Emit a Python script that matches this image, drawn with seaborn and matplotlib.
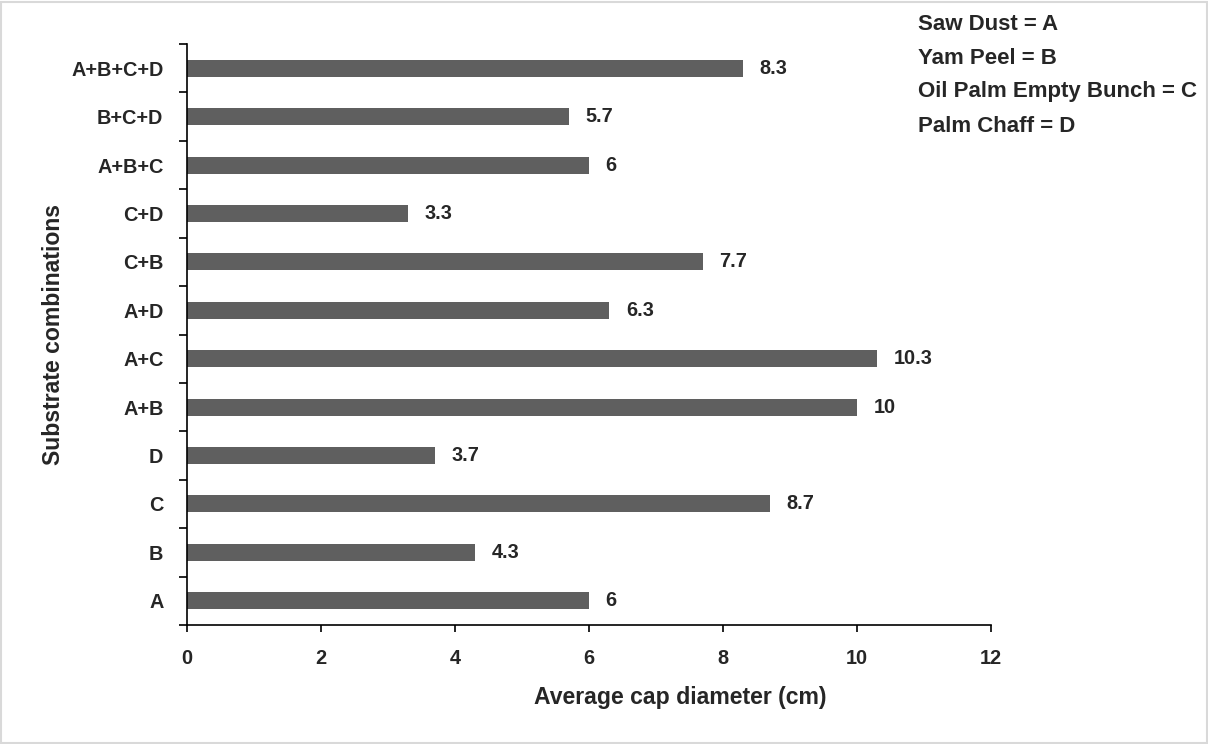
import matplotlib
matplotlib.use("Agg")
import matplotlib.pyplot as plt
import seaborn as sns
import pandas as pd
from matplotlib.ticker import FixedLocator

categories = ["A+B+C+D", "B+C+D", "A+B+C", "C+D", "C+B", "A+D",
              "A+C", "A+B", "D", "C", "B", "A"]
values = [8.3, 5.7, 6, 3.3, 7.7, 6.3, 10.3, 10, 3.7, 8.7, 4.3, 6]
value_labels = ["8.3", "5.7", "6", "3.3", "7.7", "6.3", "10.3", "10", "3.7", "8.7", "4.3", "6"]
legend_lines = ["Saw Dust = A", "Yam Peel = B", "Oil Palm Empty Bunch = C", "Palm Chaff = D"]
x_ticks = [0, 2, 4, 6, 8, 10, 12]

sns.set_style("white")
plt.rcParams['font.family'] = ['Liberation Sans', 'DejaVu Sans']
plt.rcParams['font.weight'] = 'bold'

df = pd.DataFrame({"cat": categories, "val": values})

fig = plt.figure(figsize=(12.08, 7.44), dpi=100)
ax = fig.add_axes([187 / 1208, 1 - 625 / 744, (991 - 187) / 1208, (625 - 44) / 744])

sns.barplot(data=df, x="val", y="cat", order=categories, orient="h",
            color="#5f5f5f", saturation=1, width=0.35, ax=ax, edgecolor="none")

FS = 14.3
ax.set_xlim(0, 12)
ax.set_ylim(len(categories) - 0.5, -0.5)
ax.set_xticks(x_ticks)
ax.set_xticklabels([str(t) for t in x_ticks], fontsize=FS, fontweight='bold')
ax.set_yticks(range(len(categories)))
ax.set_yticklabels(categories, fontsize=FS, fontweight='bold')
ax.yaxis.set_minor_locator(FixedLocator([i - 0.5 for i in range(len(categories) + 1)]))
ax.tick_params(axis='y', which='major', length=0, pad=17)
ax.tick_params(axis='y', which='minor', length=6, width=1.2, color='black', direction='out', left=True)
ax.tick_params(axis='x', which='major', length=5, width=1.2, color='black', direction='out', bottom=True, pad=12)

for s in ['top', 'right']:
    ax.spines[s].set_visible(False)
for s in ['left', 'bottom']:
    ax.spines[s].set_color('black')
    ax.spines[s].set_linewidth(1.2)

ax.set_xlabel("Average cap diameter (cm)", fontsize=16.6, fontweight='bold', labelpad=13)
ax.xaxis.label.set_x(0.613)
ax.set_ylabel("Substrate combinations", fontsize=16.6, fontweight='bold', labelpad=4)

for i, (v, lab) in enumerate(zip(values, value_labels)):
    ax.annotate(lab, xy=(v, i), xytext=(12, 0), textcoords='offset points',
                va='center', ha='left', fontsize=FS, fontweight='bold')

for k, line in enumerate(legend_lines):
    fig.text(918 / 1208, 1 - (24 + 34 * k) / 744, line, fontsize=16, fontweight='bold',
             va='center', ha='left')

border = plt.Rectangle((0.001, 0.001), 0.998, 0.996, transform=fig.transFigure,
                       fill=False, edgecolor='#d9d9d9', linewidth=1.5)
fig.patches.append(border)

fig.savefig("out.png", dpi=100)
